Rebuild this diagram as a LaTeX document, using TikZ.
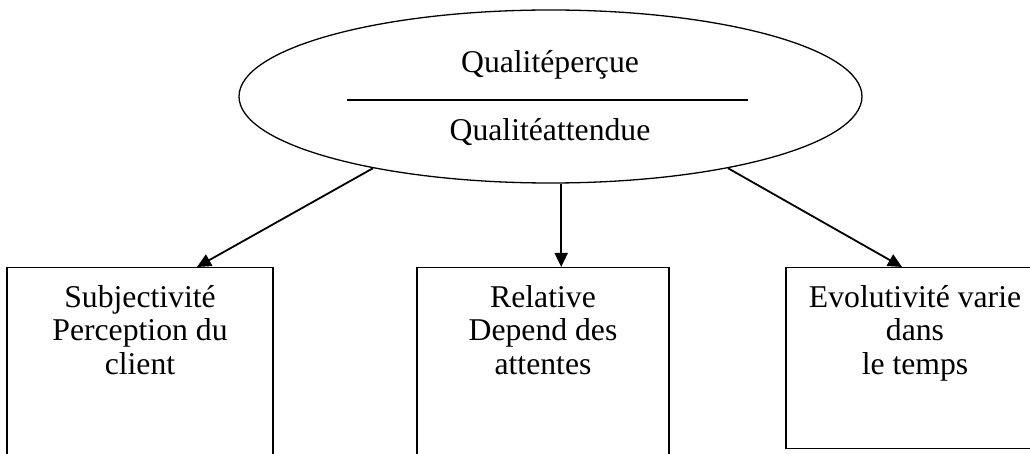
\documentclass[tikz,border=0pt]{standalone}
\usepackage{fontspec}
\setmainfont{Liberation Serif}
\usetikzlibrary{shapes.geometric,arrows.meta}
\tikzset{
  oval/.style={draw, ellipse, line width=1.3pt, minimum width=623pt, minimum height=173pt, inner sep=0pt},
  boxnode/.style={draw, rectangle, line width=1.3pt, inner sep=0pt, anchor=north},
  txt/.style={font=\fontsize{31.7}{33.5}\selectfont, align=center, inner sep=0pt},
  arr/.style={line width=1.8pt, -{Triangle[length=14pt,width=13pt]}},
  rule/.style={line width=1.6pt}
}
\begin{document}
\begin{tikzpicture}[x=1pt,y=-1pt]
\useasboundingbox (0,0) rectangle (1030,454);
\clip (0,0) rectangle (1030,454);
\fill[white] (0,0) rectangle (1030,454);
% top ellipse
\node[oval] (e) at (550.5,96.5) {};
\node[txt, anchor=base] (q1) at (550,73) {Qualitéperçue};
\node[txt, anchor=base] (q2) at (550,141) {Qualitéattendue};
\coordinate (r1) at (347,100);
\coordinate (r2) at (748,100);
\draw[rule] (r1) -- (r2);
% boxes
\node[boxnode, minimum width=266pt, minimum height=210pt] (b1) at (140,267) {};
\node[boxnode, minimum width=252pt, minimum height=210pt] (b2) at (543,267) {};
\node[boxnode, minimum width=258pt, minimum height=181pt] (b3) at (915,267) {};
\node[txt, anchor=north] (t1) at (140,285) {Subjectivité\\Perception du\\client};
\node[txt, anchor=north] (t2) at (543,285) {Relative\\Depend des\\attentes};
\node[txt, anchor=north] (t3) at (915,285) {Evolutivité varie\\dans\\le temps};
% arrows
\coordinate (p1) at (197,267);
\coordinate (p3) at (902,267);
\draw[arr] (e.202.5) -- (p1);
\draw[arr] (e.-83.4) -- (e.-83.4 |- b2.north);
\draw[arr] (e.-22) -- (p3);
\end{tikzpicture}
\end{document}
